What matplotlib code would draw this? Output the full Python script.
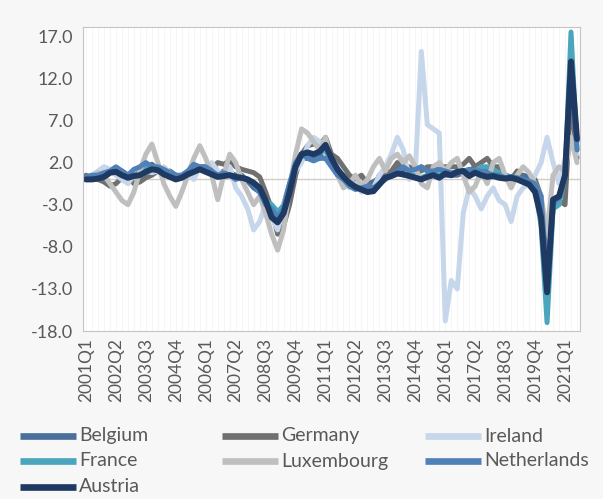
import matplotlib
matplotlib.use("Agg")
import matplotlib.pyplot as plt
from matplotlib.lines import Line2D

# Quarterly categories, 2001Q1 .. 2021Q3
quarters = [f"{y}Q{q}" for y in range(2001, 2022) for q in range(1, 5)][:83]

belgium = [0.0, 0.2, 0.5, 0.3, 0.8, 1.2, 1.0, 0.5, 0.8, 1.2, 1.5, 1.8, 1.2, 0.8, 1.0, 0.5,
           0.3, 0.8, 1.5, 1.5, 1.0, 0.8, 0.5, 1.0, 0.8, 0.5, 0.5, -0.2, -1.0, -1.5, -2.5, -3.5,
           -4.2, -3.0, -0.5, 1.5, 2.5, 2.5, 2.5, 3.0, 3.0, 2.0, 1.0, 0.5, -0.5, -0.5, -0.8, -0.5,
           -0.3, 0.2, 0.5, 0.8, 1.2, 1.3, 1.0, 1.0, 1.5, 1.0, 0.8, 0.8, 0.5, 0.5, 0.5, 0.8,
           1.0, 1.5, 1.5, 1.2, 1.0, 0.5, 0.5, 0.3, 0.5, 0.5, 0.3, -0.5, -2.5, -13.0, -3.0, -2.5,
           0.5, 14.5, 4.5]

germany = [0.5, 0.2, 0.0, -0.3, -0.8, -0.5, 0.2, 0.5, -0.5, -0.3, 0.2, 0.5, 1.0, 0.8, 0.5, 0.3,
           0.5, 0.8, 1.2, 1.5, 1.5, 1.2, 2.0, 1.8, 2.2, 1.5, 1.2, 1.0, 0.8, 0.3, -1.5, -3.5,
           -6.5, -5.5, -3.0, 0.5, 3.0, 4.0, 4.2, 4.0, 5.0, 3.0, 2.5, 1.5, 0.5, 0.0, 0.5, -0.5,
           -1.0, 0.5, 0.5, 1.0, 2.0, 1.0, 1.5, 1.0, 1.0, 1.5, 1.5, 1.5, 1.5, 1.5, 1.5, 1.8,
           2.5, 1.5, 2.0, 2.5, 1.5, 1.5, 0.5, 0.0, 1.0, 0.0, -0.5, 0.0, -2.0, -11.0, -3.5, -2.5,
           -3.0, 10.0, 2.5]

ireland = [0.2, 0.5, 1.0, 1.5, 1.2, 0.5, 0.0, -0.5, 0.5, 1.5, 1.0, 0.8, 1.0, 1.5, 0.8, 0.2,
           0.5, 1.0, 0.0, 1.5, 1.0, 2.0, 1.0, 0.5, 1.5, -1.0, -2.0, -3.5, -6.0, -5.0, -3.0, -4.5,
           -6.0, -3.0, -1.0, 1.0, 2.0, 4.0, 5.0, 4.5, 3.0, 2.0, 1.5, 0.0, -1.0, -0.5, -1.5, -1.0,
           -1.0, 0.5, 1.5, 3.0, 5.0, 3.5, 0.0, 1.0, 15.2, 6.5, 6.0, 5.5, -16.8, -12.0, -13.0, -4.0,
           -1.0, -2.0, -3.5, -2.0, -1.0, -2.5, -3.0, -5.0, -2.0, -1.0, -0.5, 0.5, 2.0, 5.0, 2.0, -0.5,
           2.5, 4.5, 3.0]

france = [0.0, 0.0, 0.2, 0.3, 0.8, 1.0, 0.8, 0.3, 0.5, 0.8, 1.5, 1.5, 1.2, 0.8, 0.5, 0.2,
          0.3, 0.8, 1.0, 1.5, 1.2, 0.8, 0.5, 0.5, 0.5, 0.3, 0.3, 0.0, -0.5, -1.5, -2.5, -3.0,
          -3.8, -3.2, -1.0, 1.5, 3.0, 3.0, 3.0, 3.2, 3.5, 2.0, 1.0, 0.2, -0.5, -0.8, -1.0, -1.2,
          -1.2, -0.5, 0.2, 0.5, 0.8, 0.5, 0.5, 0.5, 0.2, 0.5, 0.8, 0.5, 0.8, 0.5, 1.0, 1.0,
          0.5, 1.0, 1.5, 1.5, 1.2, 0.8, 0.5, 0.2, 0.0, -0.2, -0.5, -1.0, -5.5, -17.0, -3.5, -3.0,
          0.5, 17.5, 3.5]

luxembourg = [0.0, 0.3, 0.8, 0.5, -0.5, -1.5, -2.5, -3.0, -1.5, 1.0, 3.0, 4.2, 2.0, -0.5, -2.0, -3.2,
              -1.5, 0.5, 2.5, 4.0, 2.5, 0.5, -2.4, 0.5, 3.0, 2.0, 0.0, -1.5, -3.0, -2.0, -4.0, -6.5,
              -8.4, -6.0, -1.0, 3.0, 6.0, 5.5, 4.5, 3.5, 5.0, 2.0, 0.5, -1.0, -0.5, 0.5, -0.8, 0.0,
              1.5, 2.5, 1.0, 2.5, 3.0, 2.0, 2.8, 1.5, -0.5, -1.0, 1.5, 2.0, 1.0, 2.0, 2.5, 0.5,
              -1.5, -0.8, 1.0, -0.5, 2.0, 2.5, 0.5, -1.0, 0.5, 1.5, 0.8, -0.5, -2.0, -6.5, 0.5, 1.5,
              1.0, 5.0, 2.0]

netherlands = [0.3, 0.5, 0.5, 0.8, 1.0, 1.5, 1.0, 0.5, 1.2, 1.5, 2.0, 1.5, 1.5, 1.2, 0.8, 0.5,
               0.5, 1.0, 1.8, 1.5, 1.5, 1.0, 0.5, 0.8, 0.5, 0.0, 0.2, 0.0, -0.5, -1.5, -3.0, -3.5,
               -4.5, -3.5, -0.5, 2.0, 3.0, 2.5, 2.2, 2.5, 2.5, 1.5, 0.5, 0.0, -0.8, -1.2, -1.0, -0.8,
               -1.0, -0.5, 0.0, 0.5, 1.0, 1.5, 1.0, 1.2, 1.5, 1.0, 1.0, 1.2, 1.0, 0.8, 0.8, 1.0,
               1.2, 1.0, 1.0, 0.8, 0.5, 0.5, 0.2, 0.3, 0.2, 0.0, -0.2, -0.5, -2.0, -12.0, -2.8, -2.2,
               0.3, 13.0, 3.5]

austria = [0.0, 0.0, 0.1, 0.3, 0.8, 0.9, 0.5, 0.2, 0.4, 0.5, 0.9, 1.2, 1.1, 0.6, 0.3, 0.0,
           0.2, 0.6, 0.9, 1.2, 0.9, 0.6, 0.3, 0.4, 0.5, 0.3, 0.2, 0.0, -0.4, -1.0, -2.5, -4.5,
           -5.1, -4.0, -1.5, 1.5, 3.0, 3.2, 3.0, 3.3, 4.1, 2.5, 1.2, 0.3, -0.4, -0.9, -1.2, -1.5,
           -1.4, -0.6, 0.2, 0.4, 0.7, 0.6, 0.4, 0.2, 0.0, 0.3, 0.5, 0.2, 0.7, 0.5, 0.9, 1.0,
           0.4, 0.8, 0.5, 0.3, 0.4, 0.2, 0.1, 0.2, 0.0, -0.3, -0.6, -1.5, -4.5, -13.4, -2.4, -2.0,
           0.5, 14.0, 4.8]

series = [
    ("Belgium", belgium, "#4a6f9a"),
    ("Germany", germany, "#707070"),
    ("Ireland", ireland, "#c6d6eb"),
    ("France", france, "#4aa5bd"),
    ("Luxembourg", luxembourg, "#bfbfbf"),
    ("Netherlands", netherlands, "#4f80b8"),
    ("Austria", austria, "#1f3a62"),
]

y_ticks = [-18, -13, -8, -3, 2, 7, 12, 17]

W, H = 603, 499
fig = plt.figure(figsize=(W / 100, H / 100), dpi=100, facecolor="#f7f7f7")
ax = fig.add_axes([83 / W, 1 - 331 / H, (580 - 83) / W, (331 - 27) / H])
ax.set_facecolor("white")

x = list(range(len(quarters)))

# faint vertical gridlines at every quarter
for xi in x:
    ax.axvline(xi, color="#f5f5f5", lw=0.7, zorder=0)
ax.axhline(0, color="#d2ccc4", lw=1.0, zorder=1)

for name, vals, col in series:
    lw = 4.3 if name == "Austria" else 3.6
    ax.plot(x, vals, color=col, lw=lw, solid_joinstyle="round",
            solid_capstyle="round", zorder=2)

ax.set_xlim(-0.5, len(quarters) - 0.5)
ax.set_ylim(-18, 18.1)
ax.set_yticks(y_ticks)
ax.set_yticklabels([f"{v:.1f}" for v in y_ticks])
ax.set_xticks(x[::5])
ax.set_xticklabels(quarters[::5], rotation=90)

font = "Lato"
for lab in ax.get_yticklabels():
    lab.set_fontfamily(font)
    lab.set_fontsize(13)
    lab.set_color("#595959")
for lab in ax.get_xticklabels():
    lab.set_fontfamily(font)
    lab.set_fontsize(12.5)
    lab.set_color("#595959")
ax.tick_params(axis="both", length=0)
ax.tick_params(axis="y", pad=7)
ax.tick_params(axis="x", pad=5)

for s in ax.spines.values():
    s.set_color("#c4c4c4")
    s.set_linewidth(0.8)

# legend laid out in three fixed-width columns
col_x = [20, 222, 425]
row_y = [436, 461, 487]
for k, (name, vals, col) in enumerate(series):
    cx = col_x[k % 3]
    cy = row_y[k // 3]
    fig.add_artist(Line2D([cx / W, (cx + 56) / W], [1 - cy / H, 1 - cy / H],
                          color=col, lw=4.8, solid_capstyle="butt"))
    fig.text((cx + 59) / W, 1 - cy / H, name, fontsize=14, family=font,
             color="#595959", va="center", ha="left")

fig.savefig("out.png", dpi=100, facecolor=fig.get_facecolor())
